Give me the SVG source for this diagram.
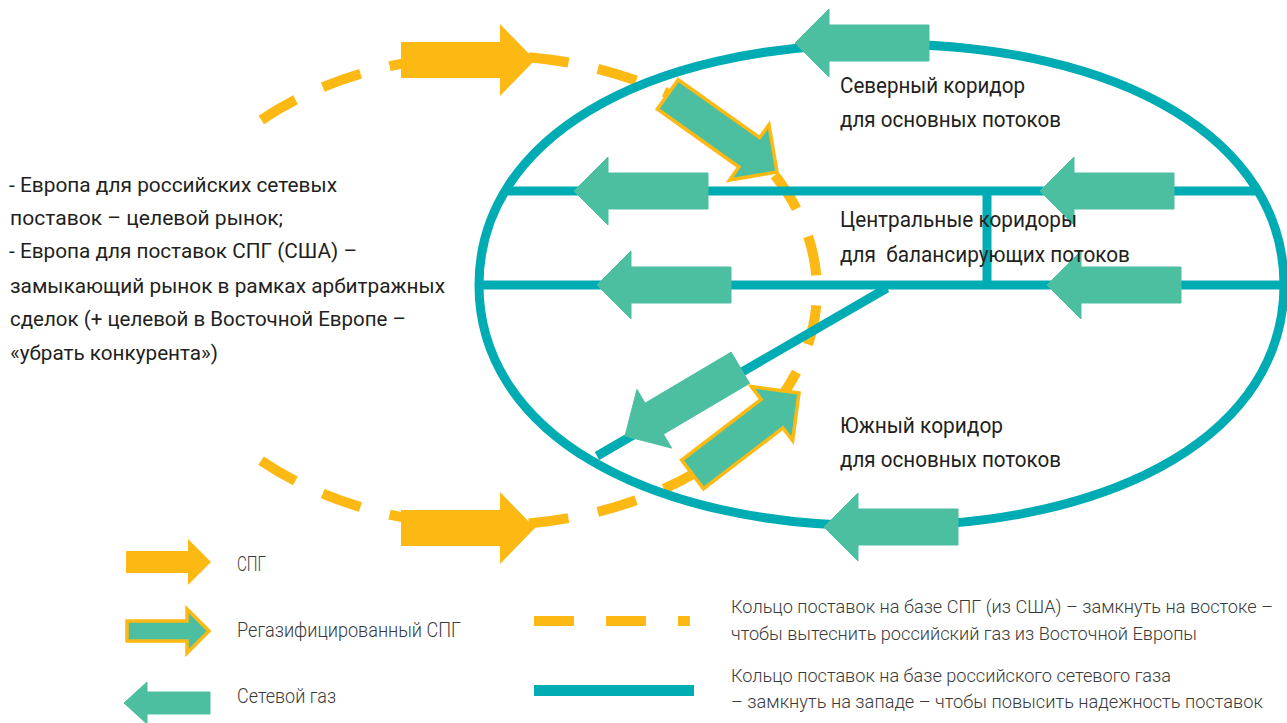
<svg xmlns="http://www.w3.org/2000/svg" xmlns:xlink="http://www.w3.org/1999/xlink" width="1287" height="723" viewBox="0 0 1287 723">
<style>
.teal{fill:none;stroke:#00ACB4;stroke-width:9}
.ring{fill:none;stroke:#FDB913;stroke-width:10;stroke-dasharray:40 30}
.gas{fill:#4DBFA1;stroke:#4DBFA1;stroke-width:1;stroke-linejoin:round}
.regas{fill:#4DBFA1;stroke:#FDB913;stroke-width:3.5;stroke-miterlimit:10}
.lng{fill:#FDB913}
.t{font-family:Roboto,"Liberation Sans",sans-serif;fill:#231F20}
.main{font-size:20.5px}
.cor{font-size:22px}
.leg{font-size:20px;font-weight:300;fill:#3A3A3A}
.leg2{font-size:18px;font-weight:300;fill:#3A3A3A}
</style>
<defs>
<path id="arrow" d="M0 0 L-34 -34 L-34 -18 L-134 -18 L-134 18 L-34 18 L-34 34 Z"/>
<path id="lngArrow" d="M0 0 L-35 -36 L-35 -18 L-134 -18 L-134 18 L-35 18 L-35 36 Z"/>
</defs>
<rect width="1287" height="723" fill="#FFFFFF"/>

<g id="connectors">
<path id="lng-ring" class="ring" d="M261.3 120 A329 235 0 1 1 256 457"/>
<path id="pipeline-ring" class="teal" d="M1284 285 C1284 429.6 1123 526 881.5 526 C640 526 479 429.6 479 285 C479 140.4 640 44 881.5 44 C1123 44 1284 140.4 1284 285 Z"/>
<path id="central-upper" class="teal" d="M505 191 H1258"/>
<path id="central-lower" class="teal" d="M479 285 H1287"/>
<path id="central-link" class="teal" d="M987 191 V285"/>
<path id="south-branch" class="teal" d="M887 288 L597 456"/>
</g>

<g id="lng-arrow-top"><use xlink:href="#lngArrow" class="lng" transform="translate(535,60)"/></g>
<g id="lng-arrow-bottom"><use xlink:href="#lngArrow" class="lng" transform="translate(535,528)"/></g>

<g id="gas-north"><use xlink:href="#arrow" class="gas" transform="translate(795,43) rotate(180)"/></g>
<g id="gas-central-1"><use xlink:href="#arrow" class="gas" transform="translate(574,191) rotate(180)"/></g>
<g id="gas-central-2"><use xlink:href="#arrow" class="gas" transform="translate(1040,191) rotate(180)"/></g>
<g id="gas-central-3"><use xlink:href="#arrow" class="gas" transform="translate(597,285) rotate(180)"/></g>
<g id="gas-central-4"><use xlink:href="#arrow" class="gas" transform="translate(1047,285) rotate(180)"/></g>
<g id="gas-south"><use xlink:href="#arrow" class="gas" transform="translate(824,527) rotate(180)"/></g>
<g id="gas-diagonal"><use xlink:href="#arrow" class="gas" transform="translate(625,436) rotate(149.4)"/></g>

<g id="regas-upper"><use xlink:href="#arrow" class="regas" transform="translate(777,172) rotate(35.4)"/></g>
<g id="regas-lower"><use xlink:href="#arrow" class="regas" transform="translate(799,393) rotate(-37.4)"/></g>

<g id="left-text" class="t main">
<text x="9" y="192" textLength="328" lengthAdjust="spacingAndGlyphs">- Европа для российских сетевых</text>
<text x="10" y="225" textLength="273" lengthAdjust="spacingAndGlyphs">поставок – целевой рынок;</text>
<text x="9" y="258" textLength="348" lengthAdjust="spacingAndGlyphs">- Европа для поставок СПГ (США) –</text>
<text x="10" y="293" textLength="435" lengthAdjust="spacingAndGlyphs">замыкающий рынок в рамках арбитражных</text>
<text x="10" y="326" textLength="396" lengthAdjust="spacingAndGlyphs">сделок (+ целевой в Восточной Европе –</text>
<text x="10" y="360" textLength="208" lengthAdjust="spacingAndGlyphs">«убрать конкурента»)</text>
</g>

<g id="label-north" class="t cor">
<text x="840" y="93" textLength="185" lengthAdjust="spacingAndGlyphs">Северный коридор</text>
<text x="840" y="127" textLength="221" lengthAdjust="spacingAndGlyphs">для основных потоков</text>
</g>
<g id="label-central" class="t cor">
<text x="840" y="227" textLength="237" lengthAdjust="spacingAndGlyphs">Центральные коридоры</text>
<text x="840" y="262" textLength="290" lengthAdjust="spacingAndGlyphs" style="white-space:pre">для  балансирующих потоков</text>
</g>
<g id="label-south" class="t cor">
<text x="840" y="433" textLength="163" lengthAdjust="spacingAndGlyphs">Южный коридор</text>
<text x="840" y="467" textLength="221" lengthAdjust="spacingAndGlyphs">для основных потоков</text>
</g>

<g id="legend-lng">
<path class="lng" d="M211 562 L188 539 L188 551 L126 551 L126 573 L188 573 L188 585 Z"/>
<text class="t leg" x="237" y="571" textLength="29" lengthAdjust="spacingAndGlyphs">СПГ</text>
</g>
<g id="legend-regas">
<path class="regas" d="M209 631 L187 609 L187 621 L127 621 L127 641 L187 641 L187 653 Z"/>
<text class="t leg" x="237" y="637" textLength="224" lengthAdjust="spacingAndGlyphs">Регазифицированный СПГ</text>
</g>
<g id="legend-gas">
<path class="gas" d="M124 703 L147 682 L147 692 L210 692 L210 714 L147 714 L147 724 Z"/>
<text class="t leg" x="237" y="703" textLength="99" lengthAdjust="spacingAndGlyphs">Сетевой газ</text>
</g>
<g id="legend-lng-ring">
<path d="M534 621 H690" fill="none" stroke="#FDB913" stroke-width="10" stroke-dasharray="40 32"/>
<text class="t leg2" x="731" y="613" textLength="542" lengthAdjust="spacingAndGlyphs">Кольцо поставок на базе СПГ (из США) – замкнуть на востоке –</text>
<text class="t leg2" x="731" y="640" textLength="466" lengthAdjust="spacingAndGlyphs">чтобы вытеснить российский газ из Восточной Европы</text>
</g>
<g id="legend-pipeline-ring">
<rect x="534" y="685" width="160" height="11" fill="#00ACB4"/>
<text class="t leg2" x="731" y="682" textLength="440" lengthAdjust="spacingAndGlyphs">Кольцо поставок на базе российского сетевого газа</text>
<text class="t leg2" x="731" y="708" textLength="532" lengthAdjust="spacingAndGlyphs">– замкнуть на западе – чтобы повысить надежность поставок</text>
</g>
</svg>
